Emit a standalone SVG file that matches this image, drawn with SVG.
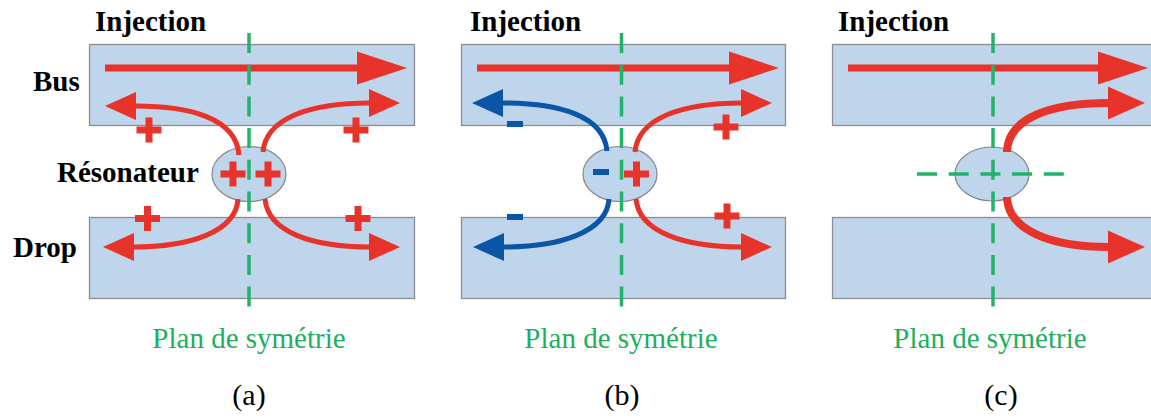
<svg xmlns="http://www.w3.org/2000/svg" width="1151" height="419" viewBox="0 0 1151 419">
<style>
.wg{fill:#BFD5EB;stroke:#8E8E8E;stroke-width:1.3}
.res{fill:#BFD5EB;stroke:#858585;stroke-width:1.2}
.lbl{font-family:"Liberation Serif","Times New Roman",serif;font-weight:bold;font-size:29px;fill:#000}
.sym{font-family:"Liberation Serif","Times New Roman",serif;font-size:29px;fill:#1DAF5D}
.cap{font-family:"Liberation Serif","Times New Roman",serif;font-size:30px;fill:#000}
.axis{fill:none;stroke:#22B26A;stroke-width:3.5;stroke-dasharray:20 11.7}
.red{fill:none;stroke:#E8332A}
.blue{fill:none;stroke:#0B55A7}
.main{stroke-width:7;marker-end:url(#headBig)}
.cr{stroke-width:5;marker-end:url(#headRed)}
.cb{stroke-width:5;marker-end:url(#headBlue)}
.cc{stroke-width:8;marker-end:url(#headMid)}
.pr{fill:#E8332A}
.mb{fill:#0B55A7}
</style>
<defs>
<marker id="headBig" markerUnits="userSpaceOnUse" orient="auto" markerWidth="60" markerHeight="40" refX="0" refY="0" overflow="visible"><path d="M-1,-16.5 L49,0 L-1,16.5 Z" fill="#E8332A"/></marker>
<marker id="headRed" markerUnits="userSpaceOnUse" orient="auto" markerWidth="40" markerHeight="30" refX="0" refY="0" overflow="visible"><path d="M-1,-14 L30,0 L-1,14 Z" fill="#E8332A"/></marker>
<marker id="headBlue" markerUnits="userSpaceOnUse" orient="auto" markerWidth="40" markerHeight="30" refX="0" refY="0" overflow="visible"><path d="M-1,-14 L30,0 L-1,14 Z" fill="#0B55A7"/></marker>
<marker id="headMid" markerUnits="userSpaceOnUse" orient="auto" markerWidth="50" markerHeight="40" refX="0" refY="0" overflow="visible"><path d="M-1,-16.5 L36,0 L-1,16.5 Z" fill="#E8332A"/></marker>
<path id="plus" d="M-12.5,-3.5 h25 v7 h-25 z M-3.5,-12.5 h7 v25 h-7 z"/>
<rect id="minus" x="-8" y="-3" width="16" height="6"/>
</defs>

<!-- Panel (a) -->
<g id="bus-a"><rect class="wg" x="89.5" y="44.5" width="325" height="81"/></g>
<g id="drop-a"><rect class="wg" x="89.5" y="217.5" width="325" height="81"/></g>
<g id="res-a"><ellipse class="res" cx="249" cy="174" rx="37" ry="27.5"/></g>

<!-- Panel (b) -->
<g id="bus-b"><rect class="wg" x="461.5" y="44.5" width="324" height="81"/></g>
<g id="drop-b"><rect class="wg" x="461.5" y="217.5" width="324" height="81"/></g>
<g id="res-b"><ellipse class="res" cx="620" cy="174" rx="37" ry="27.5"/></g>

<!-- Panel (c) -->
<g id="bus-c"><rect class="wg" x="832.5" y="44.5" width="330" height="81"/></g>
<g id="drop-c"><rect class="wg" x="832.5" y="217.5" width="330" height="81"/></g>
<g id="res-c"><ellipse class="res" cx="992" cy="174" rx="37" ry="27"/></g>

<g id="connectors">
<path class="red main" d="M105,68 H358"/>
<path class="red cr" d="M239,155 C236,118 190,106 135,106"/>
<path class="red cr" d="M263,152 C266,118 310,103 370,103"/>
<path class="red cr" d="M238,199 C236,232 190,247 133,247"/>
<path class="red cr" d="M265,199 C268,232 312,247 370,247"/>

<path class="red main" d="M477,68 H730"/>
<path class="blue cb" d="M607,151 C604,116 560,103 502,103"/>
<path class="blue cb" d="M609,199 C607,232 560,247 503,247"/>
<path class="red cr" d="M635,152 C638,118 682,103 742,103"/>
<path class="red cr" d="M636,199 C639,232 684,247 742,247"/>

<path class="red main" d="M848,68 H1099"/>
<path class="red cc" d="M1007,152 C1008,118 1050,103 1109,103"/>
<path class="red cc" d="M1007,197 C1008,230 1050,247 1109,247"/>
</g>

<g id="signs">
<use href="#plus" class="pr" x="149" y="130"/>
<use href="#plus" class="pr" x="356" y="130"/>
<use href="#plus" class="pr" x="147.5" y="218.5"/>
<use href="#plus" class="pr" x="358" y="218.5"/>
<use href="#plus" class="pr" x="233" y="174"/>
<use href="#plus" class="pr" x="268" y="174"/>

<use href="#minus" class="mb" x="515" y="124"/>
<use href="#minus" class="mb" x="515" y="217"/>
<use href="#minus" class="mb" x="601" y="172"/>
<use href="#plus" class="pr" x="636.5" y="174"/>
<use href="#plus" class="pr" x="726" y="127"/>
<use href="#plus" class="pr" x="727" y="216"/>
</g>

<g id="symmetry">
<line class="axis" x1="249" y1="33" x2="249" y2="308"/>
<line class="axis" x1="621.5" y1="33" x2="621.5" y2="308"/>
<line class="axis" x1="993" y1="33" x2="993" y2="308"/>
<line class="axis" x1="917" y1="174" x2="1065" y2="174"/>
</g>

<g id="labels">
<text class="lbl" x="95" y="31">Injection</text>
<text class="lbl" x="470" y="31">Injection</text>
<text class="lbl" x="838" y="31">Injection</text>
<text class="lbl" x="33" y="91">Bus</text>
<text class="lbl" x="57" y="182">Résonateur</text>
<text class="lbl" x="13" y="257">Drop</text>
<text class="sym" x="249" y="348" text-anchor="middle">Plan de symétrie</text>
<text class="sym" x="621" y="348" text-anchor="middle">Plan de symétrie</text>
<text class="sym" x="990" y="348" text-anchor="middle">Plan de symétrie</text>
<text class="cap" x="249" y="405" text-anchor="middle">(a)</text>
<text class="cap" x="622" y="405" text-anchor="middle">(b)</text>
<text class="cap" x="1001" y="405" text-anchor="middle">(c)</text>
</g>
</svg>
